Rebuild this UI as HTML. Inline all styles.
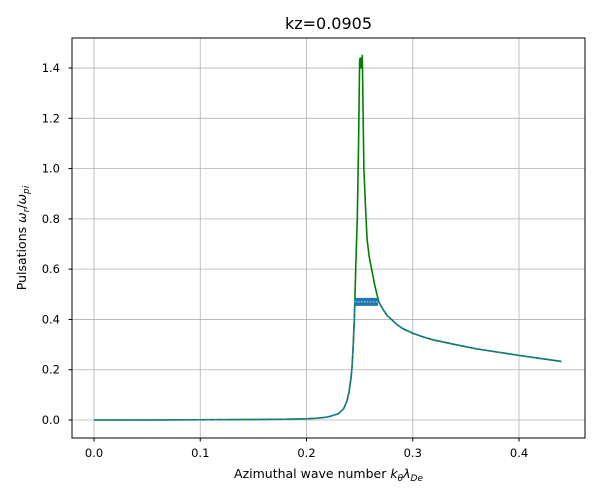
<!DOCTYPE html>
<html><head><meta charset="utf-8"><style>
body{margin:0;background:#fff;font-family:"DejaVu Sans","Liberation Sans",sans-serif}
</style></head><body>
<svg id="chart" width="600" height="500" xmlns="http://www.w3.org/2000/svg" font-family="'DejaVu Sans','Liberation Sans',sans-serif">
<rect width="600" height="500" fill="#fff"/>
<g id="grid"></g>
<g id="series"></g>
<rect x="72" y="38" width="513" height="400" fill="none" stroke="#000" stroke-width="1"/>
<g id="ticks"></g>
<text x="328.5" y="29" text-anchor="middle" font-size="16">kz=0.0905</text>
<text x="328.5" y="478" text-anchor="middle" font-size="12.5">Azimuthal wave number <tspan font-style="italic">k</tspan><tspan font-size="9" dy="3" font-style="italic">θ</tspan><tspan dy="-3" font-style="italic">λ</tspan><tspan font-size="9" dy="3" font-style="italic">De</tspan></text>
<text transform="translate(26,238) rotate(-90)" text-anchor="middle" font-size="12.5">Pulsations <tspan font-style="italic">ω</tspan><tspan font-size="9" dy="3" font-style="italic">r</tspan><tspan dy="-3">/</tspan><tspan font-style="italic">ω</tspan><tspan font-size="9" dy="3" font-style="italic">pi</tspan></text>
</svg>
<script>
const xTicks=[0.0,0.1,0.2,0.3,0.4];
const xTickLabels=["0.0","0.1","0.2","0.3","0.4"];
const yTicks=[0.0,0.2,0.4,0.6,0.8,1.0,1.2,1.4];
const yTickLabels=["0.0","0.2","0.4","0.6","0.8","1.0","1.2","1.4"];
const greenX=[0,0.05,0.1,0.15,0.18,0.2,0.21,0.22,0.23,0.235,0.238,0.24,0.242,0.243,0.244,0.245,0.2455,0.2465,0.2478,0.249,0.250,0.2505,0.251,0.2515,0.252,0.2525,0.253,0.254,0.2555,0.257,0.259,0.2613,0.264,0.268,0.272,0.276,0.28,0.285,0.29,0.3,0.31,0.32,0.34,0.36,0.38,0.4,0.42,0.44];
const greenY=[0,0,0.001,0.002,0.003,0.005,0.007,0.012,0.025,0.045,0.075,0.11,0.17,0.22,0.3,0.4,0.47,0.63,0.8,1.1,1.43,1.44,1.42,1.4,1.43,1.45,1.3,1.0,0.85,0.72,0.65,0.6,0.54,0.47,0.44,0.415,0.4,0.38,0.365,0.345,0.33,0.318,0.30,0.283,0.27,0.257,0.245,0.233];
const blueX=[0,0.05,0.1,0.15,0.18,0.2,0.21,0.22,0.23,0.235,0.238,0.24,0.242,0.243,0.244,0.245,0.2455,0.25,0.255,0.26,0.265,0.2673,0.268,0.272,0.276,0.28,0.285,0.29,0.3,0.31,0.32,0.34,0.36,0.38,0.4,0.42,0.44];
const blueY=[0,0,0.001,0.002,0.003,0.005,0.007,0.012,0.025,0.045,0.075,0.11,0.17,0.22,0.3,0.4,0.47,0.47,0.47,0.47,0.47,0.47,0.47,0.44,0.415,0.4,0.38,0.365,0.345,0.33,0.318,0.30,0.283,0.27,0.257,0.245,0.233];
const plateauX=[0.2455,0.2673];
const plateauY=[0.47,0.47];
const NS="http://www.w3.org/2000/svg";
const sx=v=>94+v*1062.5, sy=v=>420-v*251.4;
function mk(t,a,p){const e=document.createElementNS(NS,t);for(const k in a)e.setAttribute(k,a[k]);p.appendChild(e);return e;}
const grid=document.getElementById('grid'),ticks=document.getElementById('ticks'),ser=document.getElementById('series');
xTicks.forEach((v,i)=>{
 const g=mk('line',{x1:sx(v),x2:sx(v),y1:38,y2:438,stroke:'#b0b0b0','stroke-width':0.8},grid);
 
 const t=mk('line',{x1:sx(v),x2:sx(v),y1:438,y2:441.5,stroke:'#000'},ticks);
 
 const l=mk('text',{x:sx(v),y:457,'text-anchor':'middle','font-size':11.5},ticks);l.textContent=xTickLabels[i];
 
});
yTicks.forEach((v,i)=>{
 const g=mk('line',{x1:72,x2:585,y1:sy(v),y2:sy(v),stroke:'#b0b0b0','stroke-width':0.8},grid);
 
 const t=mk('line',{x1:68.5,x2:72,y1:sy(v),y2:sy(v),stroke:'#000'},ticks);
 
 const l=mk('text',{x:60,y:sy(v)+4,'text-anchor':'end','font-size':11.5},ticks);l.textContent=yTickLabels[i];
 
});
const pts=(X,Y)=>X.map((x,i)=>sx(x)+','+sy(Y[i])).join(' ');
const gl=mk('polyline',{points:pts(greenX,greenY),fill:'none',stroke:'#008000','stroke-width':1.6,'stroke-linejoin':'round'},ser);

const bl=mk('polyline',{points:pts(blueX,blueY),fill:'none',stroke:'#1f77b4','stroke-width':1.6,'stroke-dasharray':'6,2.5'},ser);

const pb=mk('polyline',{points:pts(plateauX,plateauY),fill:'none',stroke:'#1f77b4','stroke-width':8},ser);

const pd=mk('polyline',{points:pts(plateauX,plateauY),fill:'none',stroke:'#ffffff','stroke-width':0.8,'stroke-dasharray':'1.5,1.5'},ser);

</script>
</body></html>
